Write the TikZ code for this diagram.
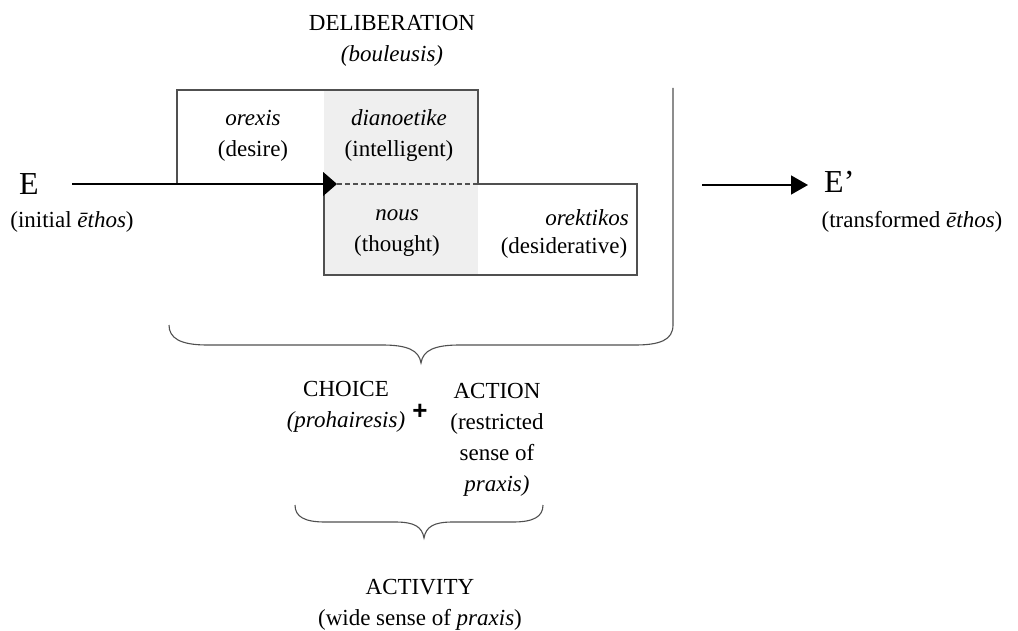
\documentclass[tikz,border=0pt]{standalone}
\usepackage{fontspec}
\setmainfont{Liberation Serif}
\newfontfamily\plusfont{Liberation Sans}
\usetikzlibrary{arrows.meta}
\definecolor{cellgray}{RGB}{239,239,239}
\definecolor{linegray}{RGB}{80,80,80}
\begin{document}
\begin{tikzpicture}[x=1pt,y=-1pt,
  txt/.style={font=\fontsize{23}{31}\selectfont, inner sep=0pt, align=center},
  bigletter/.style={font=\fontsize{32}{36}\selectfont, inner sep=0pt},
  boxline/.style={draw=linegray, line width=1.2pt},
  bracepath/.style={draw=linegray, line width=1.1pt},
  arrowline/.style={draw=black, line width=1.5pt}]
\useasboundingbox (0,0) rectangle (1018,631);
% gray middle cells
\fill[cellgray] (324,90) rectangle (478,275);
% upper box
\draw[boxline] (177,184) -- (177,90) -- (478,90) -- (478,184);
% lower box
\draw[boxline] (478,184) -- (637,184) -- (637,275) -- (324,275) -- (324,184);
% dashed boundary
\coordinate (d0) at (337,184);
\coordinate (d1) at (478,184);
\draw[boxline, dashed, dash pattern=on 5pt off 3pt] (d0) -- (d1);
% main arrow
\coordinate (a0) at (72,184);
\coordinate (a1) at (337,184);
\draw[arrowline, -{Triangle[length=14pt,width=24pt]}] (a0) -- (a1);
% right arrow
\coordinate (b0) at (702,185);
\coordinate (b1) at (808,185);
\draw[arrowline, -{Triangle[length=17pt,width=19pt]}] (b0) -- (b1);
% big brace with vertical line
\draw[bracepath] (673,88) -- (673,325) .. controls (673,340) and (660,345) .. (635,345) -- (460,345) .. controls (435,345) and (423,350) .. (421,363) .. controls (419,350) and (407,345) .. (382,345) -- (207,345) .. controls (180,345) and (169,338) .. (169,325);
% small brace
\draw[bracepath] (295,505) .. controls (295,517) and (305,522) .. (325,522) -- (395,522) .. controls (415,522) and (422,527) .. (424,538) .. controls (426,527) and (433,522) .. (453,522) -- (513,522) .. controls (533,522) and (543,517) .. (543,505);
% texts
\node[txt] (delib) at (392,41) {DELIBERATION\\\textit{(bouleusis)}};
\node[txt] (orexis) at (253,136) {\textit{orexis}\\(desire)};
\node[txt] (dian) at (399,136) {\textit{dianoetike}\\(intelligent)};
\node[txt] (nous) at (397,233) {\textit{nous}\\(thought)};
\node[txt] (orek) at (587,218) {\textit{orektikos}};
\node[txt] (desid) at (564,248) {(desiderative)};
\node[bigletter] (E) at (29,184) {E};
\node[txt] (Ei) at (72,222) {(initial \textit{ēthos})};
\node[bigletter, anchor=west] (E2) at (824,182) {E’};
\node[txt] (E2t) at (912,222) {(transformed \textit{ēthos})};
\node[txt] (choice) at (346,407) {CHOICE\\\textit{(prohairesis)}};
\node[txt, font=\fontsize{26}{28}\selectfont\plusfont\bfseries] (plus) at (420,412) {+};
\node[txt] (action) at (497,440) {ACTION\\(restricted\\sense of\\\textit{praxis)}};
\node[txt] (activity) at (420,605) {ACTIVITY\\(wide sense of \textit{praxis})};
\end{tikzpicture}
\end{document}
